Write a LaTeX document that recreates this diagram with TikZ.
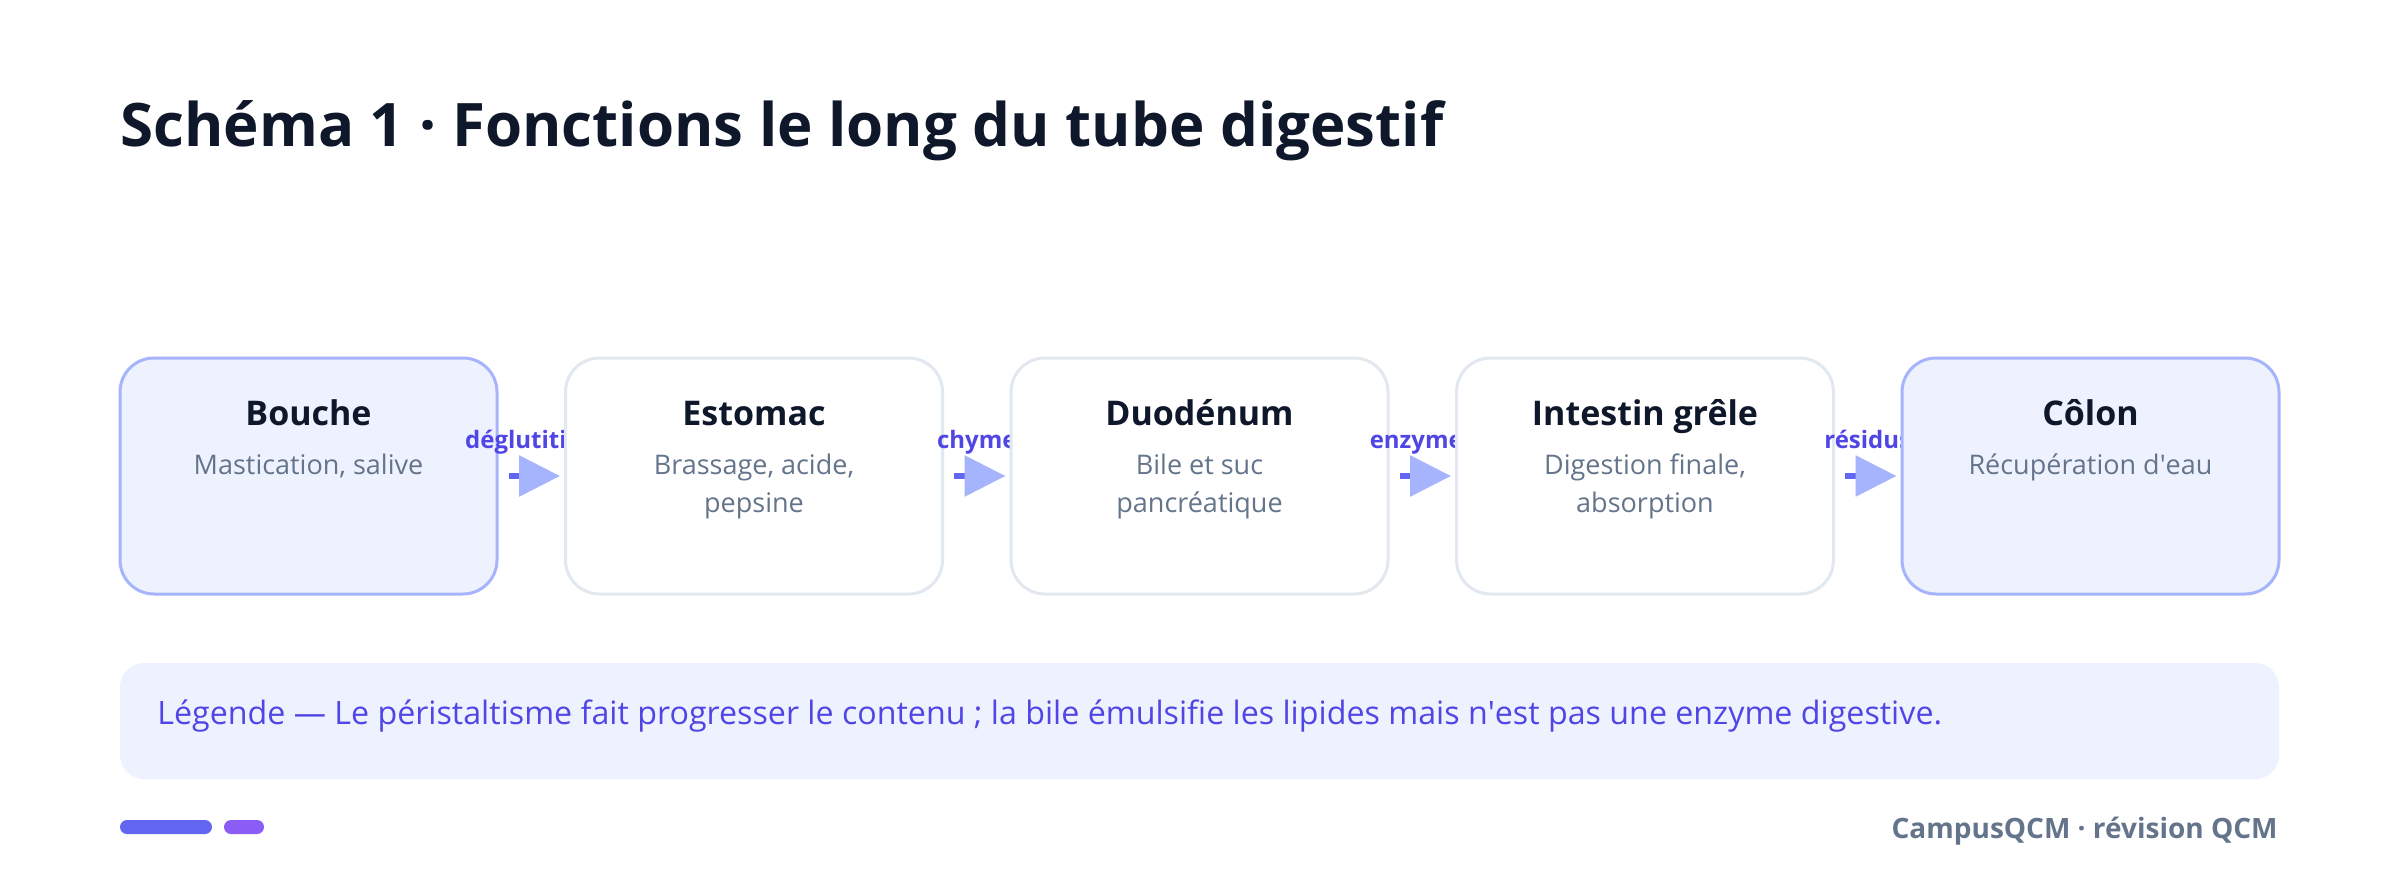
\documentclass[tikz,border=0pt]{standalone}
\usepackage{fontspec}
\setmainfont{Open Sans}
\usepackage{xcolor}
\usetikzlibrary{
    arrows.meta,
    positioning
}
\definecolor{ink}{HTML}{0F172A}
\definecolor{slategray}{HTML}{64748B}
\definecolor{indigotext}{HTML}{4F46E5}
\definecolor{accent}{HTML}{6366F1}
\definecolor{soft}{HTML}{A5B4FC}
\definecolor{pale}{HTML}{EEF2FF}
\definecolor{rim}{HTML}{E2E8F0}
\definecolor{violetbar}{HTML}{8B5CF6}

\begin{document}
\begin{tikzpicture}[x=0.5pt, y=-0.5pt,
    organ/.style={draw=rim, fill=white, line width=1.5pt, rounded corners=17pt,
        minimum width=188.5pt, minimum height=118pt, inner sep=0pt},
    endorgan/.style={organ, draw=soft, fill=pale},
    oname/.style={anchor=base, inner sep=0pt, font=\bfseries\fontsize{17}{20}\selectfont, text=ink},
    orole/.style={anchor=base, inner sep=0pt, align=center, font=\fontsize{13.5}{19}\selectfont, text=slategray},
    flowlabel/.style={anchor=base, inner sep=0pt, font=\bfseries\fontsize{12}{14}\selectfont, text=indigotext},
    flow/.style={draw=accent, line width=3pt, shorten <=5pt, shorten >=2pt,
        -{Triangle[length=20.5pt, width=20pt, color=soft]}}
]
    \fill[white] (0,0) rectangle (2400,888);
    \useasboundingbox (0,0) rectangle (2400,888);

    \node[anchor=base west, inner sep=0pt, font=\bfseries\fontsize{30}{36}\selectfont, text=ink]
        (title) at (120,147) {Schéma 1 · Fonctions le long du tube digestif};

    % boxes, each label sits under the next box
    \node[endorgan] (bouche) at (308.5,476) {};
    \node[flowlabel] (deglut) at (531.25,448) {déglutition};
    \node[organ] (estomac) at (754,476) {};
    \node[flowlabel] (chyme) at (976.75,448) {chyme};
    \node[organ] (duodenum) at (1199.5,476) {};
    \node[flowlabel] (enzymes) at (1422.25,448) {enzymes};
    \node[organ] (grele) at (1645,476) {};
    \node[flowlabel] (residus) at (1867.75,448) {résidus};
    \node[endorgan] (colon) at (2090.5,476) {};

    % two-line roles sit on their last baseline
    \node[oname] (bouchet) at (308.5,425) {Bouche};
    \node[orole] (boucher) at (308.5,474) {Mastication, salive};
    \node[oname] (estomact) at (754,425) {Estomac};
    \node[orole] (estomacr) at (754,512) {Brassage, acide,\\pepsine};
    \node[oname] (duodenumt) at (1199.5,425) {Duodénum};
    \node[orole] (duodenumr) at (1199.5,512) {Bile et suc\\pancréatique};
    \node[oname] (grelet) at (1645,425) {Intestin grêle};
    \node[orole] (greler) at (1645,512) {Digestion finale,\\absorption};
    \node[oname] (colont) at (2090.5,425) {Côlon};
    \node[orole] (colonr) at (2090.5,474) {Récupération d\textquotesingle eau};

    \draw[flow] (bouche) -- (estomac);
    \draw[flow] (estomac) -- (duodenum);
    \draw[flow] (duodenum) -- (grele);
    \draw[flow] (grele) -- (colon);

    % legend
    \node[fill=pale, rounded corners=12pt, minimum width=1079.5pt, minimum height=58pt, inner sep=0pt]
        (legend) at (1199.5,721) {};
    \node[anchor=base west, inner sep=0pt, font=\fontsize{16.1}{20}\selectfont, text=indigotext]
        (legendtxt) at (157,724) {Légende — Le péristaltisme fait progresser le contenu ; la bile émulsifie les lipides mais n\textquotesingle est pas une enzyme digestive.};

    % footer
    \fill[accent, rounded corners=3.5pt] (120,820) rectangle (212,834);
    \fill[violetbar, rounded corners=3.5pt] (224,820) rectangle (264,834);
    \node[anchor=base east, inner sep=0pt, font=\bfseries\fontsize{14}{17}\selectfont, text=slategray]
        (brand) at (2278,838) {CampusQCM · révision QCM};
\end{tikzpicture}
\end{document}
